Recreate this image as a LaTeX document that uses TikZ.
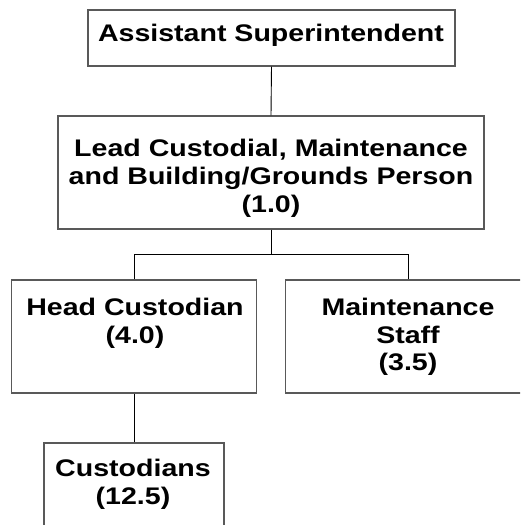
\documentclass[tikz,border=0pt]{standalone}
\usepackage{fontspec}
\usetikzlibrary{calc}
\newfontfamily\chartfont{Liberation Sans}[FakeStretch=1.19]
\begin{document}
\begin{tikzpicture}[x=1pt,y=1pt,
  box/.style={draw=black!65, line width=1.2pt, rectangle, inner sep=0pt},
  conn/.style={draw=black, line width=0.9pt},
  lbl/.style={font=\chartfont\bfseries\fontsize{24}{27.5}\selectfont, inner sep=0pt, anchor=base}]
\useasboundingbox (0,0) rectangle (520,525);
\clip (0,0) rectangle (520,525);

% boxes
\node[box, minimum width=367pt, minimum height=56pt]  (asst)  at (271.5,487) {};
\node[box, minimum width=426pt, minimum height=113pt] (lead)  at (271,352.5) {};
\node[box, minimum width=245pt, minimum height=113pt] (head)  at (134,188.5) {};
\node[box, minimum width=245pt, minimum height=113pt] (maint) at (408,188.5) {};
\node[box, minimum width=180pt, minimum height=113pt] (cust)  at (134,25.5) {};

% labels
\node[lbl] (tasst) at (271,483) {Assistant Superintendent};
\node[lbl] (tlead1) at (271,368) {Lead Custodial, Maintenance};
\node[lbl] (tlead2) at (271,340) {and Building/Grounds Person};
\node[lbl] (tlead3) at (271,312) {(1.0)};
\node[lbl] (thead1) at (135,209) {Head Custodian};
\node[lbl] (thead2) at (135,181) {(4.0)};
\node[lbl] (tmaint1) at (408,209) {Maintenance};
\node[lbl] (tmaint2) at (408,181) {Staff};
\node[lbl] (tmaint3) at (408,154) {(3.5)};
\node[lbl] (tcust1) at (133,48) {Custodians};
\node[lbl] (tcust2) at (133,20) {(12.5)};

% connectors
\coordinate (split) at ($(lead.south)+(0,-25)$);
\draw[conn] (asst.south) -- (lead.north);
\draw[conn] (lead.south) -- (split);
\draw[conn] (head.north) |- (split) -| (maint.north);
\draw[conn] (head.south) -- (cust.north);
\end{tikzpicture}
\end{document}
